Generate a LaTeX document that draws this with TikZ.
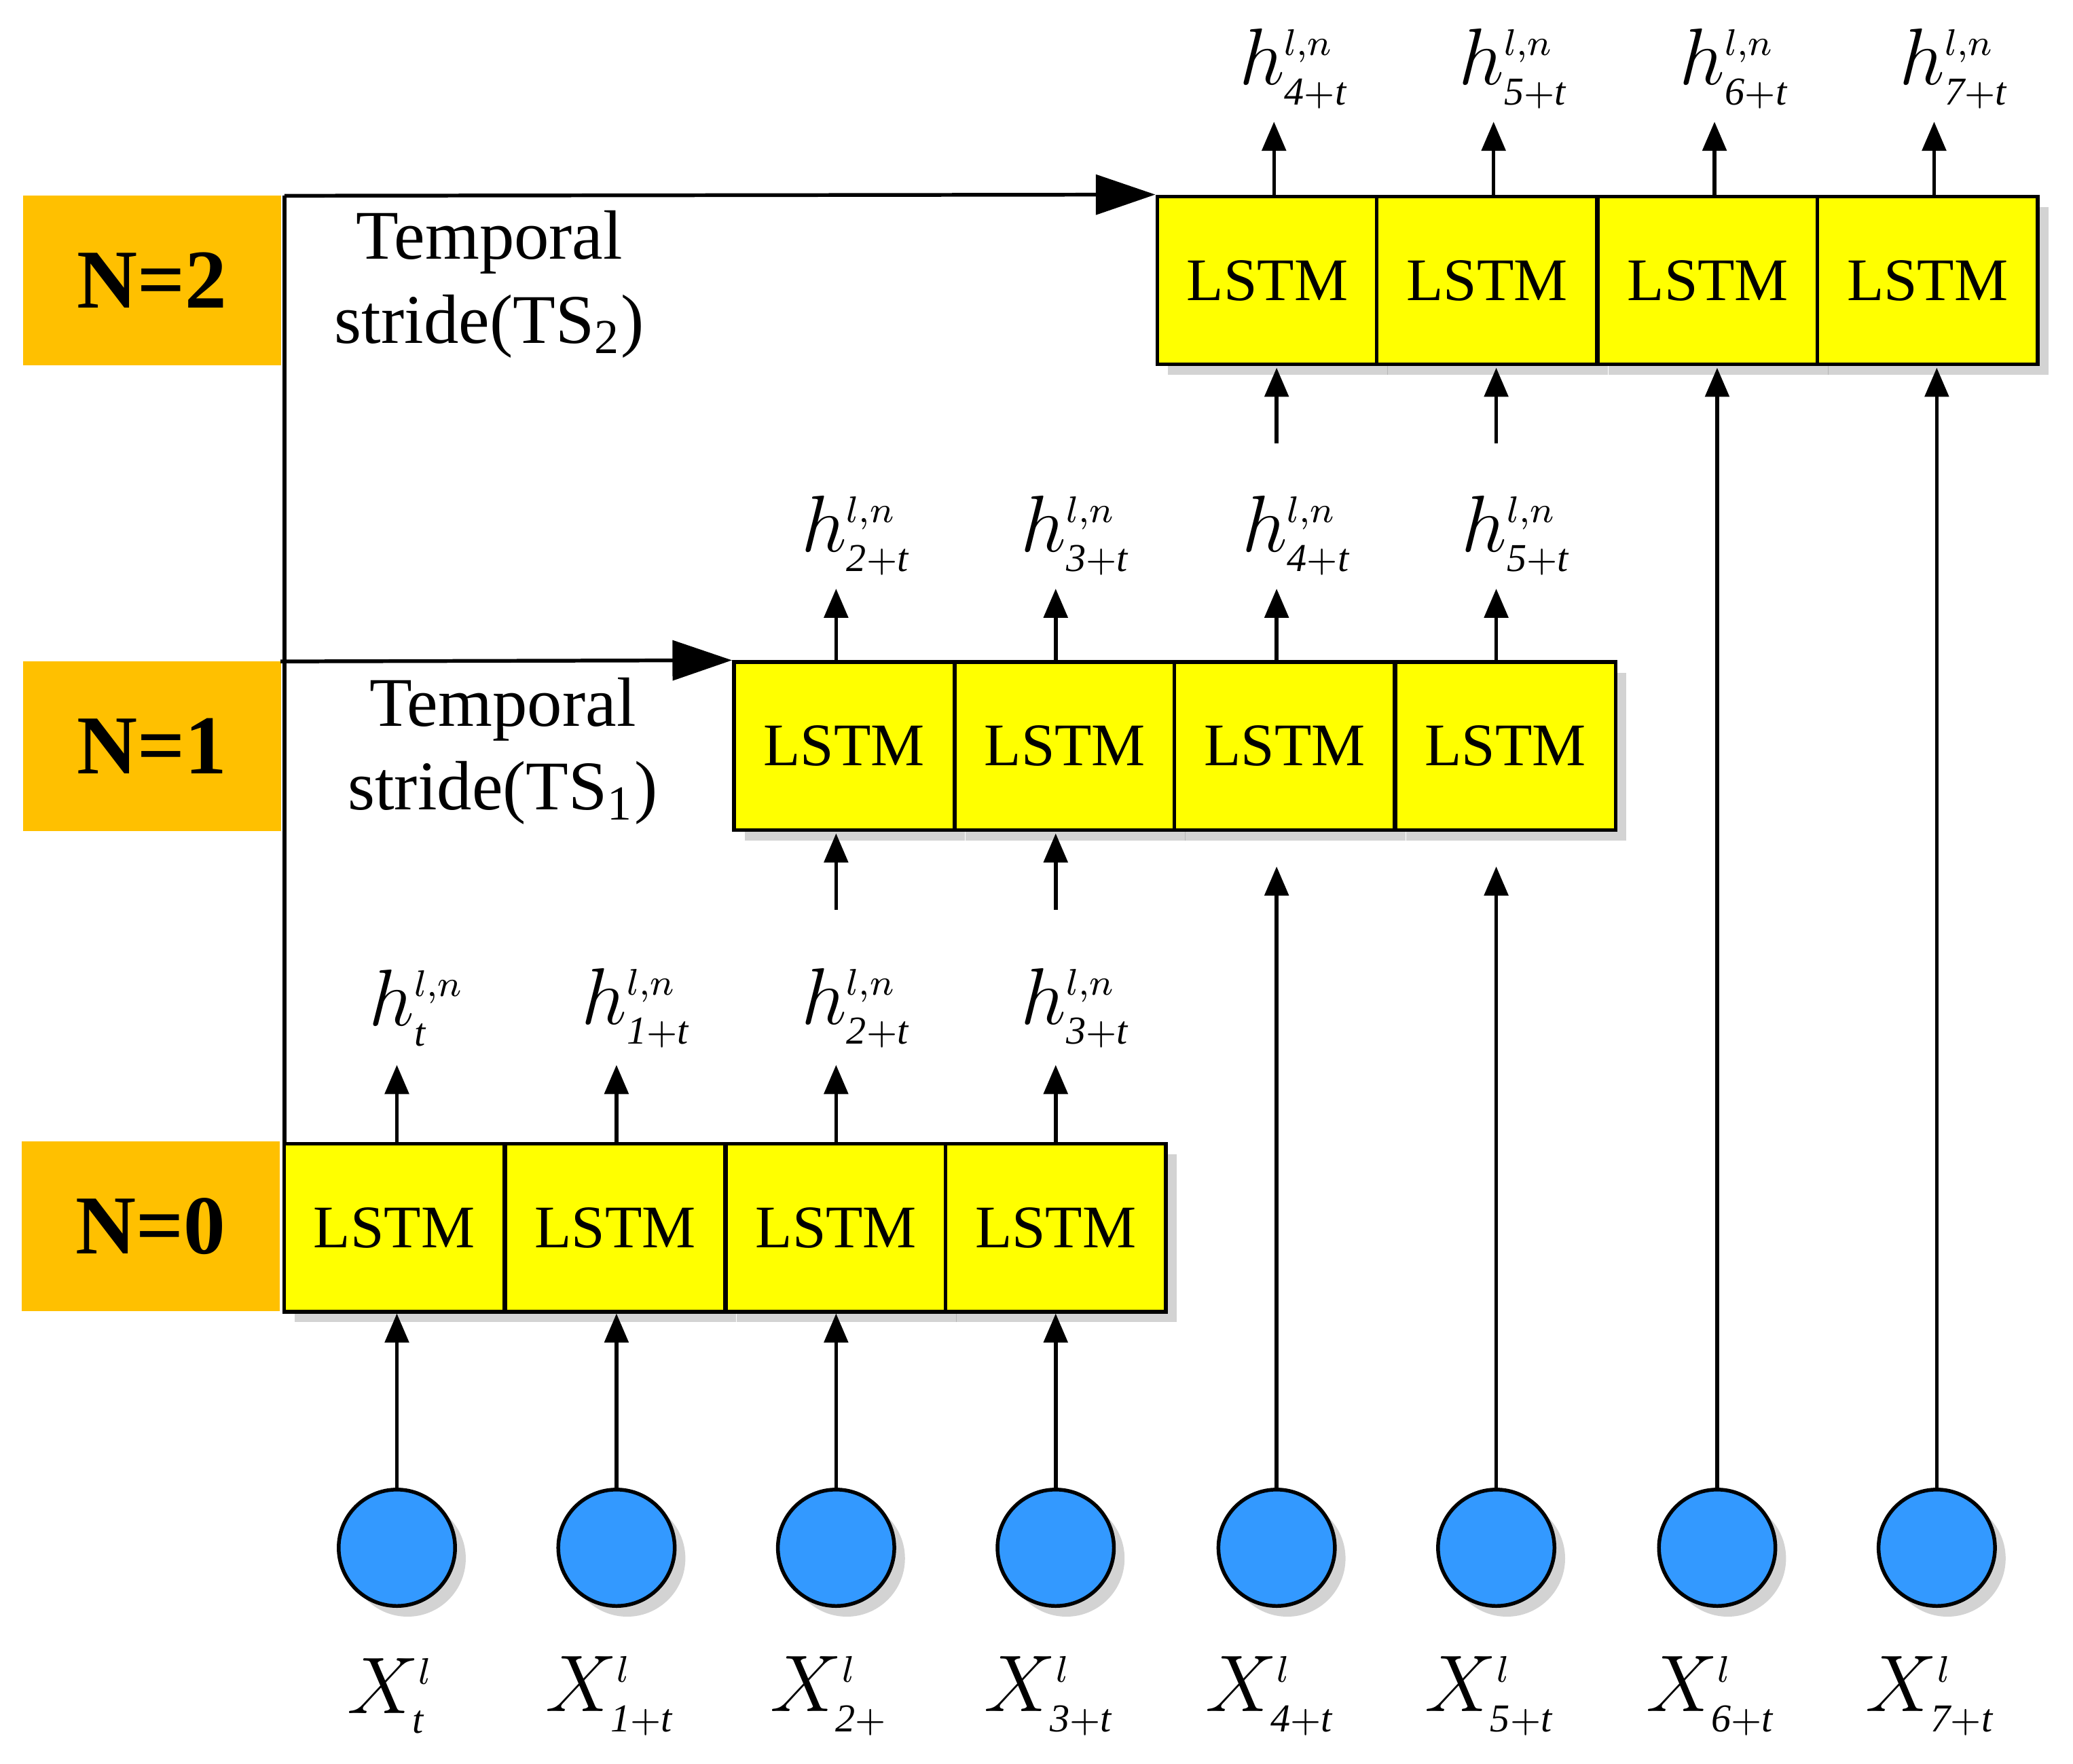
\documentclass[tikz,border=0pt]{standalone}
\usepackage{fontspec}
\setmainfont{Liberation Serif}
\usetikzlibrary{arrows.meta,shadows,positioning}
\definecolor{lorange}{HTML}{FFC000}
\definecolor{lyellow}{HTML}{FFFF00}
\definecolor{lblue}{HTML}{3399FF}
\tikzset{
  cell/.style={draw,thick,fill=lyellow,minimum width=16.65mm,minimum height=12.7mm,
    inner sep=0pt,font=\fontsize{13}{13}\selectfont,drop shadow={opacity=0.35}},
  level/.style={fill=lorange,minimum width=19.5mm,minimum height=12.8mm,
    font=\bfseries\fontsize{18}{18}\selectfont},
  input/.style={circle,draw,thick,fill=lblue,minimum size=8.8mm,drop shadow={opacity=0.35}},
  lbl/.style={font=\fontsize{17}{17}\selectfont},
  up/.style={thick,-{Triangle[length=2.2mm,width=1.8mm]}},
  big/.style={thick,-{Triangle[length=4.5mm,width=3mm]}}
}
\begin{document}
\begin{tikzpicture}[x=0.1mm,y=-0.1mm]
  \useasboundingbox (0,0) rectangle (1567,1333);
  % level tags
  \node[level] (n2) at (115,212) {N=2};
  \node[level] (n1) at (115,564) {N=1};
  \node[level] (n0) at (114,927) {N=0};
  % LSTM rows
  \foreach \i/\x in {1/298,2/465,3/632,4/798}
    \node[cell] (a\i) at (\x,928) {LSTM};
  \foreach \i/\x in {1/638,2/805,3/971,4/1138}
    \node[cell] (b\i) at (\x,564) {LSTM};
  \foreach \i/\x in {1/958,2/1124,3/1291,4/1457}
    \node[cell] (c\i) at (\x,212) {LSTM};
  % inputs
  \foreach \i/\x/\s in {1/300/t,2/466/1+t,3/632/2+,4/798/3+t,5/965/4+t,6/1131/5+t,7/1298/6+t,8/1464/7+t}{
    \node[input] (x\i) at (\x,1170) {};
    \node[lbl] (xl\i) at (\x-5,1282) {$X^{\scriptscriptstyle l}_{\scriptscriptstyle\mathit{\s}}$};
  }
  \foreach \i in {1,...,4} \draw[up] (x\i) -- (a\i.south -| x\i);
  \draw[up] (x5) -- (x5 |- 655,655);
  \draw[up] (x6) -- (x6 |- 655,655);
  \draw[up] (x7) -- (x7 |- 278,278);
  \draw[up] (x8) -- (x8 |- 278,278);
  % N=0 outputs
  \foreach \i/\x/\s in {1/300/t,2/466/1+t,3/632/2+t,4/798/3+t}{
    \coordinate (ta\i) at (\x,805);
    \draw[up] (a\i.north -| ta\i) -- (ta\i);
    \node[lbl] (ha\i) at (\x+15,762) {$h^{\scriptscriptstyle l,n}_{\scriptscriptstyle\mathit{\s}}$};
  }
  % N=1 inputs and outputs
  \foreach \x in {632,798}{
    \coordinate (s) at (\x,688);
    \draw[up] (s) -- (\x,630);
  }
  \foreach \i/\x/\s in {1/632/2+t,2/798/3+t,3/965/4+t,4/1131/5+t}{
    \coordinate (tb\i) at (\x,445);
    \draw[up] (b1.north -| tb\i) -- (tb\i);
    \node[lbl] (hb\i) at (\x+15,405) {$h^{\scriptscriptstyle l,n}_{\scriptscriptstyle\mathit{\s}}$};
  }
  % N=2 inputs and outputs
  \foreach \x in {965,1131}{
    \coordinate (s) at (\x,335);
    \draw[up] (s) -- (\x,278);
  }
  \foreach \i/\x/\s in {1/963/4+t,2/1129/5+t,3/1296/6+t,4/1462/7+t}{
    \coordinate (tc\i) at (\x,92);
    \draw[up] (c1.north -| tc\i) -- (tc\i);
    \node[lbl] (hc\i) at (\x+15,52) {$h^{\scriptscriptstyle l,n}_{\scriptscriptstyle\mathit{\s}}$};
  }
  % temporal strides
  \coordinate (corner) at (215,148);
  \coordinate (foot) at (215,865);
  \draw[thick] (foot) -- (corner);
  \draw[big] (corner) -- (c1.north west);
  \draw[big] (212,500) -- (b1.north west);
  \node[align=center,font=\fontsize{15}{18}\selectfont] (ts2) at (370,215)
    {Temporal\\stride(TS\textsubscript{2})};
  \node[align=center,font=\fontsize{15}{18}\selectfont] (ts1) at (380,568)
    {Temporal\\stride(TS\textsubscript{1})};
\end{tikzpicture}
\end{document}
